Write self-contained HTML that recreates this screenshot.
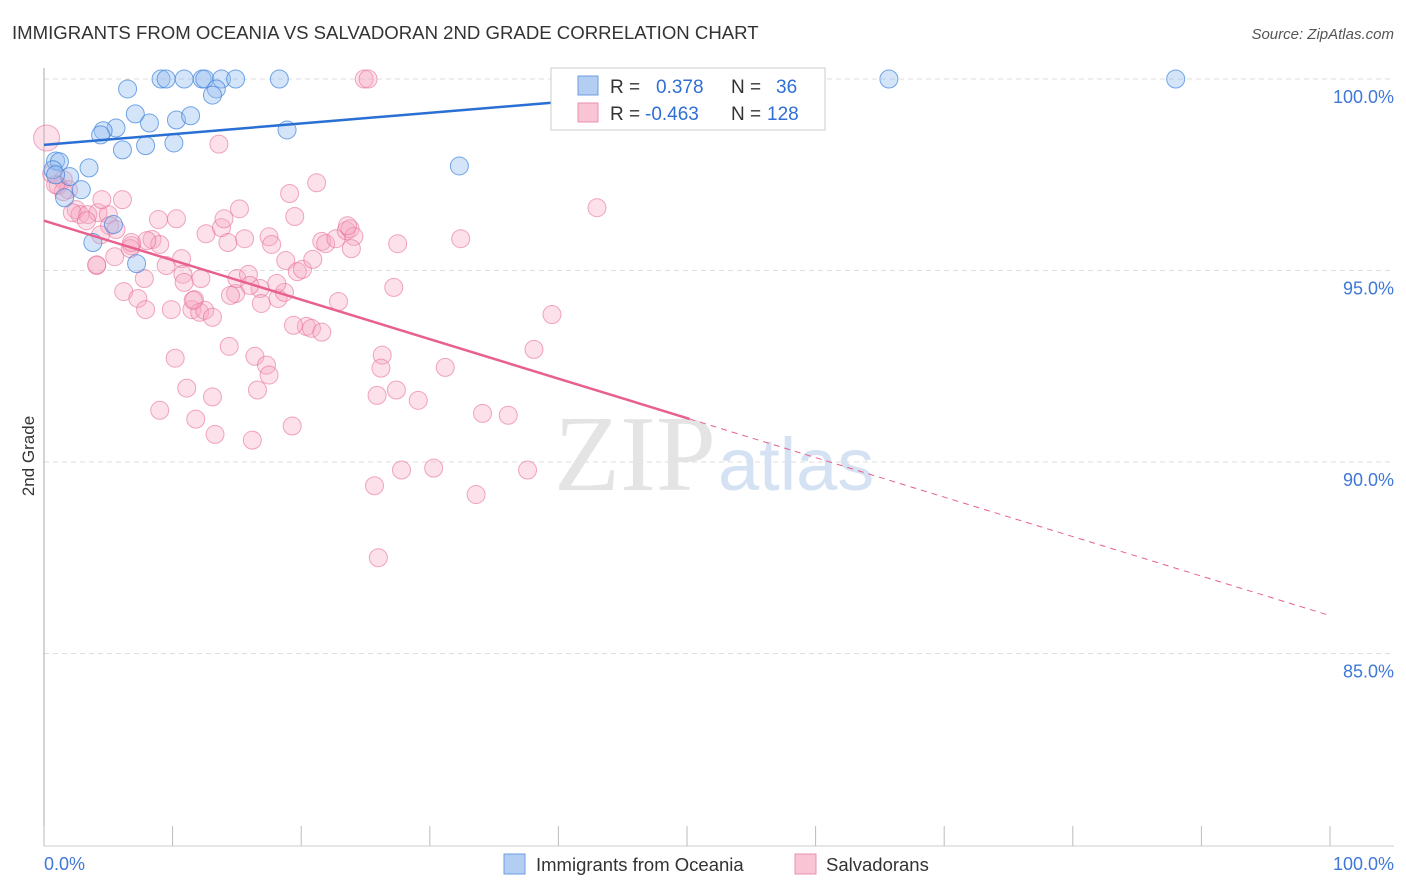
<!DOCTYPE html>
<html><head><meta charset="utf-8">
<style>
body{margin:0;background:#fff;font-family:"Liberation Sans",sans-serif;}
svg{display:block}
</style></head>
<body>
<svg width="1406" height="892" xmlns="http://www.w3.org/2000/svg">
<text x="12" y="39" font-size="18.6" fill="#333">IMMIGRANTS FROM OCEANIA VS SALVADORAN 2ND GRADE CORRELATION CHART</text>
<text x="1394" y="39" font-size="15" fill="#555" font-style="italic" text-anchor="end">Source: ZipAtlas.com</text>
<g id="grid"></g>
<text x="716" y="490" font-size="108" font-family="Liberation Serif,serif" fill="#e4e4e4" text-anchor="end">ZIP</text>
<text x="718" y="490" font-size="74" fill="#d4e2f4">atlas</text>
<g id="pts"></g>
<g id="lines"></g>
<text transform="translate(34,456) rotate(-90)" font-size="17" fill="#333" text-anchor="middle">2nd Grade</text>
<g>
<rect x="551" y="68" width="274" height="62" fill="#fff" stroke="#ccc"/>
<rect x="578" y="76" width="20" height="19" fill="#b3cef2" stroke="#6d9de0"/>
<rect x="578" y="103" width="20" height="19" fill="#f9c4d4" stroke="#ec8fae"/>
<text x="610" y="93" font-size="19" fill="#333">R =</text>
<text x="656" y="93" font-size="19" fill="#2f6fd6">0.378</text>
<text x="731" y="93" font-size="19" fill="#333">N =</text>
<text x="776" y="93" font-size="19" fill="#2f6fd6">36</text>
<text x="610" y="120" font-size="19" fill="#333">R =</text>
<text x="645" y="120" font-size="19" fill="#2f6fd6">-0.463</text>
<text x="731" y="120" font-size="19" fill="#333">N =</text>
<text x="767" y="120" font-size="19" fill="#2f6fd6">128</text>
</g>
<g>
<rect x="504" y="854" width="21" height="20" fill="#b3cef2" stroke="#6d9de0"/>
<text x="536" y="871" font-size="18.5" fill="#333">Immigrants from Oceania</text>
<rect x="795" y="854" width="21" height="20" fill="#f9c4d4" stroke="#ec8fae"/>
<text x="826" y="871" font-size="18.5" fill="#333">Salvadorans</text>
</g>
<text x="44" y="870" font-size="18" fill="#3f78d8">0.0%</text>
<text x="1394" y="870" font-size="18" fill="#3f78d8" text-anchor="end">100.0%</text>
</svg>
<script>
const yTicks=[100,95,90,85];
const yTickLabels=["100.0%","95.0%","90.0%","85.0%"];
const xTicks=[0,10,20,30,40,50,60,70,80,90,100];
const blueX=[9.1,9.5,10.9,12.3,12.5,13.8,14.9,18.3,65.7,88.0,6.5,13.4,13.1,7.1,10.3,11.4,8.2,5.6,4.6,4.4,18.9,6.1,7.9,10.1,32.3,0.9,1.2,3.5,2.0,2.9,1.6,0.7,5.4,7.2,3.8,0.9];
const blueY=[100,100,100,100,100,100,100,100,100,100,99.74,99.74,99.58,99.09,98.93,99.04,98.85,98.72,98.65,98.54,98.67,98.15,98.26,98.33,97.73,97.86,97.84,97.68,97.45,97.11,96.90,97.63,96.20,95.18,95.73,97.50];
const pinkX=[24.9,25.2,0.2,13.6,43.0,0.6,1.5,1.1,1.9,2.5,2.8,2.2,3.4,4.2,5.0,5.1,6.1,4.5,5.6,4.1,6.2,7.3,7.9,7.8,6.8,8.4,8.9,10.3,9.5,9.0,9.9,10.7,10.8,10.9,11.5,11.7,12.1,12.5,13.1,12.2,12.6,13.8,14.0,14.3,15.2,14.9,14.5,15.0,15.9,15.6,16.8,16.9,17.5,17.7,18.2,18.7,18.8,19.1,19.5,21.2,19.7,20.1,20.9,21.6,21.9,20.4,19.4,20.8,21.6,22.9,22.7,23.5,23.8,24.1,23.6,23.9,27.5,27.2,32.4,39.5,38.1,10.2,14.4,16.4,17.3,26.3,26.2,31.2,11.1,13.1,16.6,9.0,11.8,27.4,29.1,25.9,13.3,16.2,19.3,34.1,36.1,27.8,30.3,37.6,25.7,33.6,26.0,4.1,5.5,6.7,8.0,4.4,3.3,1.5,0.9,6.8,11.6,16.0,18.1,17.5];
const pinkY=[100,100,98.46,98.3,96.64,97.53,97.37,97.22,97.11,96.59,96.46,96.51,96.46,96.51,96.46,96.17,96.85,96.85,96.07,95.13,94.45,94.27,93.98,94.79,95.65,95.81,96.33,96.35,95.13,95.68,93.98,95.31,94.9,94.69,93.98,94.24,93.91,93.96,93.78,94.79,95.96,96.12,96.35,95.73,96.61,94.4,94.35,94.79,94.9,95.83,94.53,94.14,95.88,95.68,94.27,94.43,95.26,97.01,96.41,97.29,94.97,95.03,95.29,95.76,95.7,93.54,93.57,93.49,93.39,94.19,95.83,96.04,96.09,95.89,96.17,95.57,95.7,94.56,95.83,93.85,92.94,92.71,93.02,92.76,92.53,92.79,92.45,92.47,91.93,91.7,91.88,91.35,91.12,91.88,91.61,91.74,90.72,90.57,90.94,91.27,91.22,89.79,89.84,89.79,89.38,89.15,87.5,95.15,95.36,95.57,95.78,95.93,96.3,97.06,97.24,95.73,94.22,94.61,94.66,92.27];
const blueLine=[98.28,101.07];
const pinkLine=[96.30,85.99];
const X0=44,X1=1330,Y100=79,PX5=191.5;
const sx=v=>X0+(X1-X0)*v/100;
const sy=v=>Y100+(100-v)*PX5/5;
const NS="http://www.w3.org/2000/svg";
function mk(tag,attrs,parent){const e=document.createElementNS(NS,tag);for(const k in attrs)e.setAttribute(k,attrs[k]);parent.appendChild(e);return e;}
const grid=document.getElementById('grid');
yTicks.forEach((t,i)=>{
 const l=mk('line',{x1:44,x2:1394,y1:sy(t),y2:sy(t),stroke:'#ddd','stroke-dasharray':'5,4'},grid);
 
 
 const tx=mk('text',{x:1394,y:sy(t)+24,'font-size':18,fill:'#3f78d8','text-anchor':'end'},grid);
 tx.textContent=yTickLabels[i];
 
 
});
const ax=mk('line',{x1:44,x2:44,y1:68,y2:846,stroke:'#aaa'},grid);


const bx=mk('line',{x1:44,x2:1394,y1:846,y2:846,stroke:'#ccc'},grid);


xTicks.forEach(t=>{
 const l=mk('line',{x1:sx(t),x2:sx(t),y1:826,y2:846,stroke:'#bbb'},grid);
 
 
});
const pts=document.getElementById('pts');
pinkX.forEach((x,i)=>{
 const c=mk('circle',{cx:sx(x),cy:sy(pinkY[i]),r:(i==2?13:9),fill:'rgba(247,170,195,0.35)',stroke:'rgba(232,110,150,0.6)','stroke-width':1},pts);
 
 
});
blueX.forEach((x,i)=>{
 const c=mk('circle',{cx:sx(x),cy:sy(blueY[i]),r:9,fill:'rgba(150,190,240,0.4)',stroke:'rgba(60,130,220,0.7)','stroke-width':1},pts);
 
 
});
const lines=document.getElementById('lines');
const bAt=x=>blueLine[0]+(blueLine[1]-blueLine[0])*x/100;
const pAt=x=>pinkLine[0]+(pinkLine[1]-pinkLine[0])*x/100;
const bl=mk('line',{x1:sx(0),y1:sy(bAt(0)),x2:sx(60),y2:sy(bAt(60)),stroke:'#2a6fd4','stroke-width':2.5},lines);


const pl=mk('line',{x1:sx(0),y1:sy(pAt(0)),x2:sx(50.2),y2:sy(pAt(50.2)),stroke:'#e8608e','stroke-width':2.5},lines);


const pd=mk('line',{x1:sx(50.2),y1:sy(pAt(50.2)),x2:sx(100),y2:sy(pAt(100)),stroke:'#e8608e','stroke-width':1,'stroke-dasharray':'6,5'},lines);


</script>
</body></html>
